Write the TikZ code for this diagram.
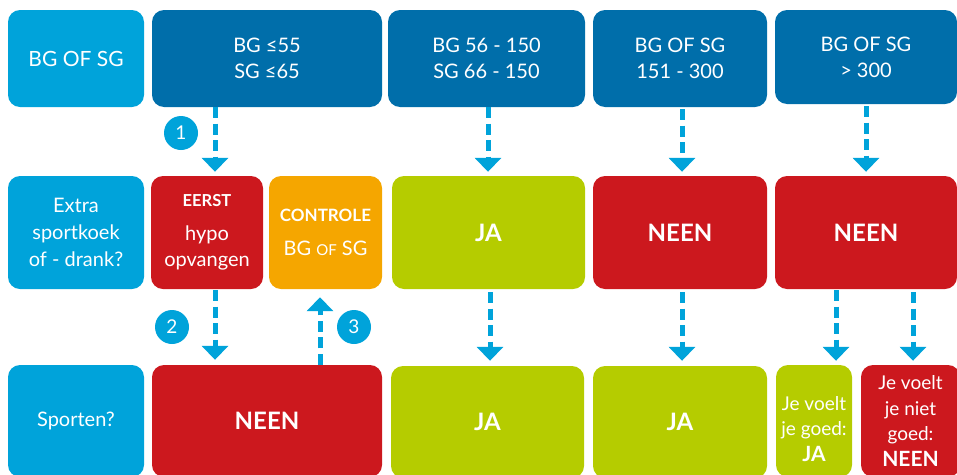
\documentclass[tikz,border=0pt]{standalone}
\usepackage{fontspec}
\setmainfont{Lato}
\usetikzlibrary{arrows.meta}
\definecolor{lichtblauw}{RGB}{0,163,218}
\definecolor{donkerblauw}{RGB}{0,110,170}
\definecolor{rood}{RGB}{204,24,30}
\definecolor{oranje}{RGB}{245,166,0}
\definecolor{groen}{RGB}{181,204,0}
\tikzset{
  vak/.style={rounded corners=12pt, text=white, align=center, inner sep=0pt,
    font=\fontsize{20}{26}\selectfont},
  vet/.style={font=\fontsize{24}{26}\bfseries},
  klein/.style={font=\fontsize{19}{25.5}\selectfont},
  flow/.style={lichtblauw, line width=5pt, dash pattern=on 11pt off 5.5pt,
    -{Triangle[width=26pt,length=14pt]}},
  stapnr/.style={circle, fill=lichtblauw, text=white, minimum size=34pt,
    inner sep=0pt, font=\fontsize{19}{19}\selectfont}
}
\begin{document}
\begin{tikzpicture}[x=1pt,y=-1pt]
  \useasboundingbox (0,0) rectangle (957,474);
  \clip (0,0) rectangle (957,474);

  \node[vak, fill=lichtblauw, minimum width=136, minimum height=97, font=\fontsize{21}{26}\selectfont] (a1) at (76,58.5) {BG OF SG};
  \node[vak, fill=donkerblauw, minimum width=230, minimum height=97] (b1) at (267,58.5) {BG ≤55\\SG ≤65};
  \node[vak, fill=donkerblauw, minimum width=197, minimum height=97] (c1) at (486.5,58.5) {BG 56 - 150\\SG 66 - 150};
  \node[vak, fill=donkerblauw, minimum width=174, minimum height=97] (d1) at (680,58.5) {BG OF SG\\151 - 300};
  \node[vak, fill=donkerblauw, minimum width=182, minimum height=94] (e1) at (866,57) {BG OF SG\\> 300};

  \node[vak, fill=lichtblauw, minimum width=136, minimum height=113, font=\fontsize{20}{27}\selectfont] (a2) at (76,232.5) {Extra\\sportkoek\\of - drank?};
  \node[vak, fill=rood, minimum width=112, minimum height=113] (b2a) at (207,232.5)
    {{\fontsize{16.5}{15}\bfseries EERST}\\[8pt]hypo\\opvangen};
  \node[vak, fill=oranje, minimum width=113, minimum height=113] (b2b) at (325.5,232.5)
    {{\fontsize{17}{15}\bfseries CONTROLE}\\[8pt]BG {\fontsize{15}{15}\selectfont OF} SG};
  \node[vak, vet, fill=groen, minimum width=193, minimum height=113] (c2) at (488.5,232.5) {JA};
  \node[vak, vet, fill=rood, minimum width=174, minimum height=113] (d2) at (680,232.5) {NEEN};
  \node[vak, vet, fill=rood, minimum width=182, minimum height=113] (e2) at (866,232.5) {NEEN};

  \node[vak, fill=lichtblauw, minimum width=136, minimum height=112] (a3) at (76,421) {Sporten?};
  \node[vak, vet, fill=rood, minimum width=230, minimum height=112] (b3) at (267,421) {NEEN};
  \node[vak, vet, fill=groen, minimum width=193, minimum height=112] (c3) at (487.5,422) {JA};
  \node[vak, vet, fill=groen, minimum width=174, minimum height=112] (d3) at (680,422) {JA};
  \node[vak, fill=groen, minimum width=76, minimum height=112] (e3a) at (814,421) {};
  \node[klein, text=white, align=center] (e3atekst) at (814,429) {Je voelt\\je goed:\\{\fontsize{21}{25}\bfseries JA}};
  \node[vak, klein, fill=rood, minimum width=99, minimum height=112] (e3b) at (910.5,421)
    {Je voelt\\je niet\\goed:\\{\fontsize{21}{25}\bfseries NEEN}};

  \draw[flow, shorten >=4pt] (b1.south -| 215,0) -- (b2a.north -| 215,0);
  \draw[flow, shorten >=4pt] (c1.south -| 488,0) -- (c2.north -| 488,0);
  \draw[flow, shorten >=4pt, shorten <=2pt] (d1.south -| 682,0) -- (d2.north -| 682,0);
  \draw[flow, shorten >=4pt, shorten <=2pt] (e1.south -| 866,0) -- (e2.north -| 866,0);

  \draw[flow, shorten >=5pt, shorten <=1pt] (b2a.south -| 215,0) -- (b3.north -| 215,0);
  \draw[flow, shorten >=8pt] (b3.north -| 320,0) -- (b2b.south -| 320,0);
  \draw[flow, shorten >=5pt, shorten <=3pt] (c2.south -| 490,0) -- (c3.north -| 490,0);
  \draw[flow, shorten >=5pt, shorten <=3pt] (d2.south -| 682,0) -- (d3.north -| 682,0);
  \draw[flow, shorten >=4pt, shorten <=1pt] (e2.south -| 836,0) -- (e3a.north -| 836,0);
  \draw[flow, shorten >=4pt, shorten <=3pt] (e2.south -| 913,0) -- (e3b.north -| 913,0);

  \node[stapnr] (nr1) at (181,133) {1};
  \node[stapnr] (nr2) at (172,327) {2};
  \node[stapnr] (nr3) at (354,327) {3};
\end{tikzpicture}
\end{document}
